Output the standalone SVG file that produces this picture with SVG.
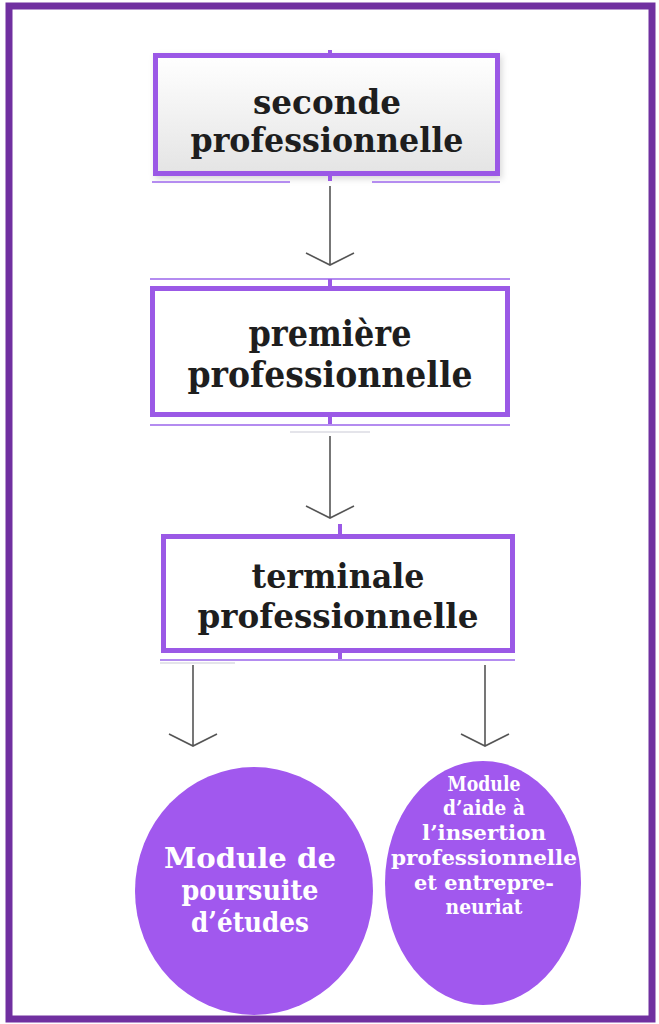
<svg xmlns="http://www.w3.org/2000/svg" width="659" height="1024" viewBox="0 0 659 1024">
<defs>
<linearGradient id="g1" x1="0" y1="0" x2="0" y2="1"><stop offset="0" stop-color="#ffffff"/><stop offset="1" stop-color="#e4e4e4"/></linearGradient>
<filter id="sh" x="-10%" y="-10%" width="120%" height="130%"><feDropShadow dx="2" dy="3" stdDeviation="3" flood-color="#000" flood-opacity="0.15"/></filter>
</defs>
<style>
.box{stroke:#9b59e6;stroke-width:5}
.tick{fill:#9b59e6}
.hl{stroke:#b48cf0;stroke-width:2;fill:none}
.gl{stroke:#e4e4ea;stroke-width:2;fill:none}
.t{font-family:"DejaVu Serif","Liberation Serif",serif;font-weight:bold;fill:#1e1e1e;text-anchor:middle}
.c{font-family:"DejaVu Serif","Liberation Serif",serif;font-weight:bold;fill:#ffffff;text-anchor:middle}
.con{stroke:#555;stroke-width:1.6;fill:none}
.circ{fill:#a158ee}
</style>
<rect x="9" y="6" width="643" height="1013" fill="#ffffff" stroke="#7030a0" stroke-width="7"/>

<g id="connectors">
<path class="con" d="M330 186V265M306 253L330 265L354 253"/>
<path class="con" d="M330 436V518M306 506L330 518L354 506"/>
<path class="con" d="M193 665V746M169 734L193 746L217 734"/>
<path class="con" d="M485 665V746M461 734L485 746L509 734"/>
</g>

<g id="n1">
<rect x="155.5" y="55.5" width="342" height="118" fill="url(#g1)" class="box" filter="url(#sh)"/>
<rect class="tick" x="328" y="50" width="4" height="6"/>
<rect class="tick" x="328" y="173" width="4" height="8"/>
<path class="hl" d="M152 182H290M372 182H500"/>
<text class="t" font-size="34" x="327" y="114" textLength="148" lengthAdjust="spacingAndGlyphs">seconde</text>
<text class="t" font-size="34" x="327" y="152" textLength="273" lengthAdjust="spacingAndGlyphs">professionnelle</text>
</g>

<g id="n2">
<path class="hl" d="M150 279H510"/>
<rect class="tick" x="328" y="279" width="4" height="8"/>
<rect x="152.5" y="288.5" width="355" height="126" fill="#ffffff" class="box"/>
<rect class="tick" x="328" y="414" width="4" height="11"/>
<path class="hl" d="M150 425H510"/>
<path class="gl" d="M290 432H370"/>
<text class="t" font-size="35" x="330" y="346" textLength="163" lengthAdjust="spacingAndGlyphs">première</text>
<text class="t" font-size="35" x="330" y="387" textLength="285" lengthAdjust="spacingAndGlyphs">professionnelle</text>
</g>

<g id="n3">
<rect class="tick" x="338" y="524" width="4" height="10"/>
<rect x="163.5" y="536.5" width="349" height="114" fill="#ffffff" class="box"/>
<rect class="tick" x="338" y="650" width="4" height="10"/>
<path class="hl" d="M160 660H515"/>
<path class="gl" d="M160 663H235"/>
<text class="t" font-size="34" x="338" y="588" textLength="173" lengthAdjust="spacingAndGlyphs">terminale</text>
<text class="t" font-size="34" x="338" y="628" textLength="281" lengthAdjust="spacingAndGlyphs">professionnelle</text>
</g>

<g id="n4">
<ellipse class="circ" cx="254" cy="891" rx="119" ry="124"/>
<text class="c" font-size="27" x="250" y="868" textLength="172" lengthAdjust="spacingAndGlyphs">Module de</text>
<text class="c" font-size="27" x="250" y="900" textLength="137" lengthAdjust="spacingAndGlyphs">poursuite</text>
<text class="c" font-size="27" x="250" y="932" textLength="118" lengthAdjust="spacingAndGlyphs">d’études</text>
</g>

<g id="n5">
<ellipse class="circ" cx="483" cy="883" rx="98" ry="122"/>
<text class="c" font-size="21" x="484" y="791" textLength="73" lengthAdjust="spacingAndGlyphs">Module</text>
<text class="c" font-size="21" x="484" y="815" textLength="82" lengthAdjust="spacingAndGlyphs">d’aide à</text>
<text class="c" font-size="21" x="484" y="840" textLength="124" lengthAdjust="spacingAndGlyphs">l’insertion</text>
<text class="c" font-size="21" x="484" y="865" textLength="186" lengthAdjust="spacingAndGlyphs">professionnelle</text>
<text class="c" font-size="21" x="484" y="890" textLength="140" lengthAdjust="spacingAndGlyphs">et entrepre-</text>
<text class="c" font-size="21" x="484" y="914" textLength="77" lengthAdjust="spacingAndGlyphs">neuriat</text>
</g>
</svg>
